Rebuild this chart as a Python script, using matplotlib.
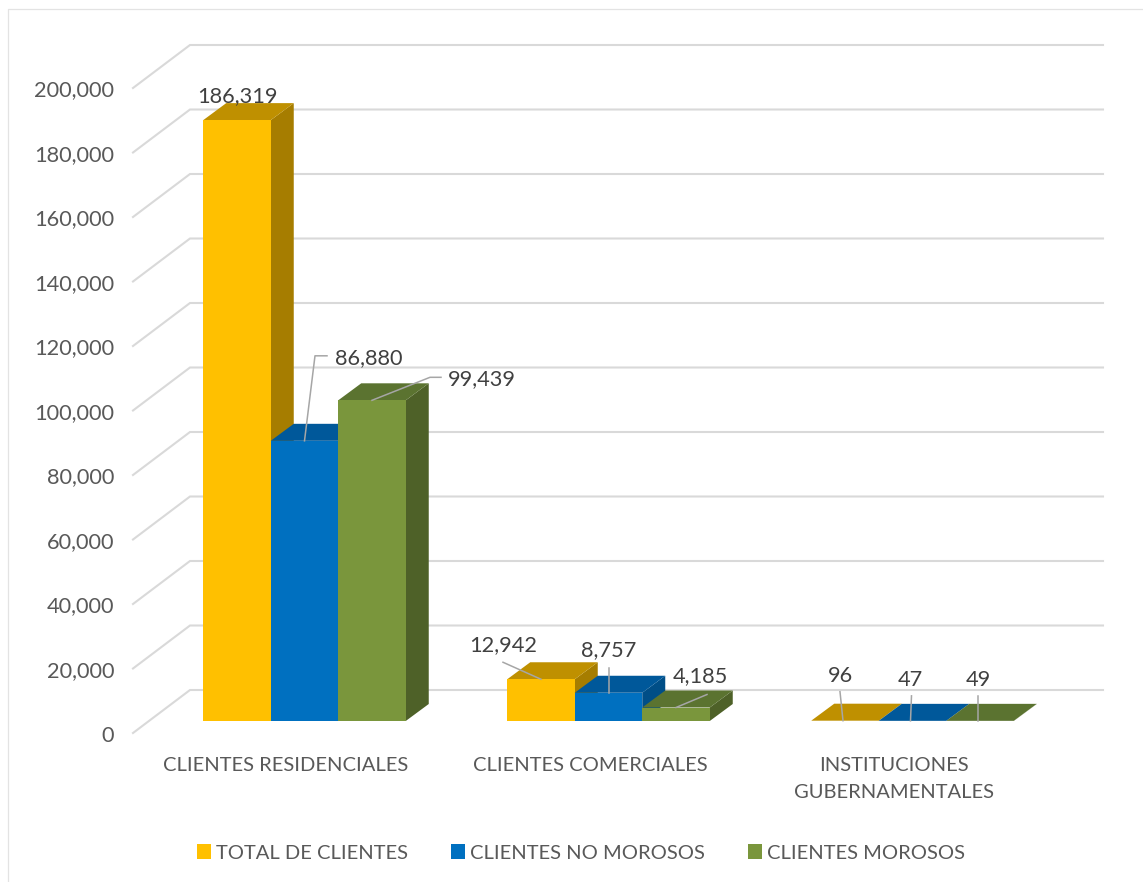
import matplotlib
matplotlib.use('Agg')
import matplotlib.pyplot as plt
from matplotlib.patches import Polygon, Patch

plt.rcParams['font.family'] = ['Lato', 'DejaVu Sans']

##Data
categories = ['CLIENTES RESIDENCIALES', 'CLIENTES COMERCIALES', 'INSTITUCIONES\nGUBERNAMENTALES']
series_names = ['TOTAL DE CLIENTES', 'CLIENTES NO MOROSOS', 'CLIENTES MOROSOS']
total_clientes = [186319, 12942, 96]
no_morosos = [86880, 8757, 47]
morosos = [99439, 4185, 49]
y_ticks = list(range(0, 200001, 20000))

##Styles
front_colors = ['#FFC000', '#0070C0', '#7A963C']
top_colors = ['#BF9000', '#00589A', '#5B7330']
side_colors = ['#A67D00', '#004E87', '#4E6128']
GRID = '#D9D9D9'
TICK_TEXT = '#595959'
LABEL_TEXT = '#404040'
LEADER = '#A6A6A6'
NUM_SIZE = 15.7
TEXT_SIZE = 14.5

##Scale: one category is 304 px, 100,000 clients is 322.5 px
PX_X = 1 / 304
PX_Y = 1 / 0.003225
BAR_W = 67.5 * PX_X
DEPTH_X = 23 * PX_X
DEPTH_Y = 17 * PX_Y

#Label text offset and leader line points, px from the top centre of each bar's front face
label_layout = [
    [((0, 26), []), ((64, 85), [(10.5, 85), (22.5, 85)]), ((110, 23), [(58, 23), (69, 23)])],
    [((-38, 36), [(-38, 17)]), ((0, 45), [(0, 25)]), ((24, 33), [(31, 13)])],
    [((-5, 47), [(-5, 29)]), ((-2, 43), [(-1, 25)]), ((-2, 43), [(-2, 25)])],
]
#x nudge of the leader start in the last category, its labels hang off the flat bars
leader_start = [[0, 0, 0], [0, 0, 0], [-2, -2, -2]]

fig = plt.figure(figsize=(11.43, 8.82), dpi=100)
ax = fig.add_axes([0, 0, 1, 1])
ax.set_xlim(-304.5 * PX_X, (1143 - 304.5) * PX_X)
ax.set_ylim(-(882 - 721) * PX_Y, 721 * PX_Y)
ax.axis('off')

#Chart border, only top and left are visible in the picture
fig.add_artist(plt.Line2D([8 / 1143, 8 / 1143, 1], [0, 1 - 9 / 882, 1 - 9 / 882],
                          color='#E3E3E3', lw=0.9))

#Walls: side wall diagonal then back wall
wall_left = -171.5 * PX_X
wall_back = -114.5 * PX_X
wall_right = 798.5 * PX_X
for t in y_ticks:
    ax.plot([wall_left, wall_back, wall_right],
            [t - 12 * PX_Y, t + 31 * PX_Y, t + 31 * PX_Y],
            color=GRID, lw=1.5, solid_joinstyle='miter', zorder=1)
    ax.text(wall_left - 19 * PX_X, t - 12.5 * PX_Y, f'{t:,}', ha='right', va='center_baseline',
            fontsize=NUM_SIZE, color=TICK_TEXT)

for i, name in enumerate(categories):
    ax.text(i - 18.5 * PX_X, -36 * PX_Y, name, ha='center', va='top', fontsize=TEXT_SIZE,
            color=TICK_TEXT, linespacing=1.7, zorder=5)

#Bars drawn left to right so nearer faces paint over the previous side face
all_series = [total_clientes, no_morosos, morosos]
z = 2
for c in range(len(categories)):
    x0 = c - 1.5 * BAR_W
    for s, vals in enumerate(all_series):
        v = vals[c]
        x = x0 + s * BAR_W
        ax.add_patch(Polygon([(x + BAR_W, 0), (x + BAR_W + DEPTH_X, DEPTH_Y),
                              (x + BAR_W + DEPTH_X, v + DEPTH_Y), (x + BAR_W, v)],
                             facecolor=side_colors[s], edgecolor='none', zorder=z))
        ax.add_patch(Polygon([(x, v), (x + DEPTH_X, v + DEPTH_Y),
                              (x + BAR_W + DEPTH_X, v + DEPTH_Y), (x + BAR_W, v)],
                             facecolor=top_colors[s], edgecolor='none', zorder=z))
        ax.bar(x, v, BAR_W, align='edge', color=front_colors[s], zorder=z)
        z += 1

#Data labels with leader lines
for c in range(len(categories)):
    x0 = c - 1.5 * BAR_W
    for s, vals in enumerate(all_series):
        v = vals[c]
        cx = x0 + (s + 0.5) * BAR_W
        (tx, ty), leader = label_layout[c][s]
        if leader:
            xs = [cx + leader_start[c][s] * PX_X] + [cx + p[0] * PX_X for p in leader]
            ys = [v] + [v + p[1] * PX_Y for p in leader]
            ax.plot(xs, ys, color=LEADER, lw=1.1, zorder=50)
        ax.text(cx + tx * PX_X, v + ty * PX_Y, f'{v:,}', ha='center', va='center_baseline',
                fontsize=NUM_SIZE, color=LABEL_TEXT, zorder=51)

handles = [Patch(facecolor=col, edgecolor='none') for col in front_colors]
fig.legend(handles, series_names, loc='center', bbox_to_anchor=(581 / 1143, 1 - 853 / 882),
           ncol=3, frameon=False, fontsize=TEXT_SIZE, labelcolor=TICK_TEXT, handlelength=0.7,
           handleheight=0.7, handletextpad=0.25, columnspacing=2.15)

fig.savefig('out.png', dpi=100)
